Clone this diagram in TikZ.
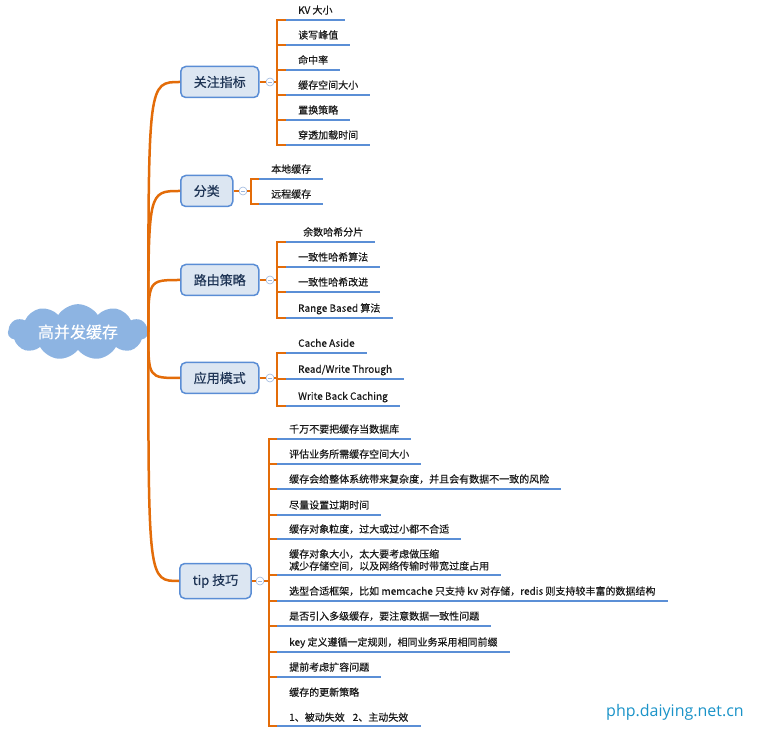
\documentclass[tikz,border=0pt]{standalone}
\usepackage{fontspec}
\setmainfont{Noto Sans CJK SC}[FakeBold=0.4]
\newfontfamily\wmfont{Open Sans}
\usetikzlibrary{shapes.symbols}
\definecolor{orangeln}{HTML}{E36C09}
\definecolor{blueln}{HTML}{5B8FD6}
\definecolor{mfill}{HTML}{DCE6F2}
\definecolor{mdraw}{HTML}{5A8DD5}
\definecolor{mtext}{HTML}{1F3556}
\definecolor{cloudc}{HTML}{8DB4E2}
\definecolor{foldc}{HTML}{9CB6DE}
\definecolor{leaftext}{HTML}{1A1A1A}
\definecolor{wmark}{HTML}{1A93C8}
\begin{document}
\begin{tikzpicture}[x=1pt,y=-1pt,
    main/.style={draw=mdraw, fill=mfill, line width=1.5pt, rounded corners=5pt,
      text=mtext, font=\fontsize{13}{15}\selectfont, inner xsep=13pt,
      minimum height=31pt, anchor=west},
    fold/.style={circle, draw=foldc, fill=white, line width=0.6pt,
      minimum size=8pt, inner sep=0pt,
      path picture={\draw[foldc, line width=0.6pt]
        ([xshift=-2.2pt]path picture bounding box.center) --
        ([xshift=2.2pt]path picture bounding box.center);}},
    leaf/.style={anchor=south west, inner xsep=12pt, align=left,
      font=\fontsize{10}{12}\selectfont, text=leaftext},
    oneline/.style={inner ysep=4pt, text height=8pt, text depth=2pt},
    twoline/.style={inner ysep=4pt},
    uline/.style={draw=blueln, line width=2pt},
    bracket/.style={draw=orangeln, line width=2.8pt, line cap=rect},
    stub/.style={draw=orangeln, line width=2pt},
    branch/.style={draw=orangeln, line width=2.5pt}]
\useasboundingbox (0,0) rectangle (764,751);
% 中心
\node[cloud, cloud puffs=11, cloud puff arc=115, aspect=3.2, fill=cloudc,
  minimum width=140pt, minimum height=46pt, text=white,
  font=\fontsize{16}{18}\selectfont] (root) at (78,332) {高并发缓存};
% 一级节点
\node[main] (m1) at (180,82) {关注指标};
\node[main] (m2) at (180,191) {分类};
\node[main] (m3) at (180,280) {路由策略};
\node[main] (m4) at (180,378) {应用模式};
\node[main, minimum height=35pt] (m5) at (179,581) {tip 技巧};
\foreach \m in {m1,m2,m3,m4,m5}
  \draw[branch] (root.east) .. controls (root.east |- \m.west) .. (\m.west);
% 折叠点
\node[fold] (f1) at (270,82) {};
\node[fold] (f2) at (243,191) {};
\node[fold] (f3) at (270,280) {};
\node[fold] (f4) at (270,378) {};
\node[fold] (f5) at (260,581) {};
\coordinate (b1) at (277,82);
\coordinate (b2) at (251,191);
\coordinate (b3) at (277,280);
\coordinate (b4) at (277,378);
\coordinate (b5) at (269,581);
\foreach \i in {1,...,5}
  \draw[stub] (m\i) -- (f\i) -- (b\i);
% 关注指标
\foreach \y/\s/\t [count=\i] in {20/oneline/KV 大小, 45/oneline/读写峰值,
    70/oneline/命中率, 95/oneline/缓存空间大小, 120/oneline/置换策略,
    145/oneline/穿透加载时间} {
  \node[leaf, \s] (zb\i) at (286,\y) {\t};
  \draw[bracket] (b1 |- zb\i.south west) -- (zb\i.south west);
  \draw[uline] (zb\i.south west) -- (zb\i.south east);
}
\draw[bracket] (b1 |- zb1.south west) -- (b1 |- zb6.south west);
% 分类
\foreach \y/\s/\t [count=\i] in {179/oneline/本地缓存, 204/oneline/远程缓存} {
  \node[leaf, \s] (fl\i) at (259,\y) {\t};
  \draw[bracket] (b2 |- fl\i.south west) -- (fl\i.south west);
  \draw[uline] (fl\i.south west) -- (fl\i.south east);
}
\draw[bracket] (b2 |- fl1.south west) -- (b2 |- fl2.south west);
% 路由策略
\foreach \y/\s/\t [count=\i] in {242/oneline/\hspace*{5pt}余数哈希分片,
    267/oneline/一致性哈希算法, 292/oneline/一致性哈希改进,
    318/oneline/Range Based 算法} {
  \node[leaf, \s] (ly\i) at (286,\y) {\t};
  \draw[bracket] (b3 |- ly\i.south west) -- (ly\i.south west);
  \draw[uline] (ly\i.south west) -- (ly\i.south east);
}
\draw[bracket] (b3 |- ly1.south west) -- (b3 |- ly4.south west);
% 应用模式
\foreach \y/\s/\t [count=\i] in {353/oneline/Cache Aside,
    379/oneline/{Read/Write Through}, 406/oneline/Write Back Caching} {
  \node[leaf, \s] (yy\i) at (286,\y) {\t};
  \draw[bracket] (b4 |- yy\i.south west) -- (yy\i.south west);
  \draw[uline] (yy\i.south west) -- (yy\i.south east);
}
\draw[bracket] (b4 |- yy1.south west) -- (b4 |- yy3.south west);
% tip 技巧
\foreach \y/\s/\t [count=\i] in {439/oneline/千万不要把缓存当数据库,
    464/oneline/评估业务所需缓存空间大小,
    489/oneline/缓存会给整体系统带来复杂度，并且会有数据不一致的风险,
    515/oneline/尽量设置过期时间,
    539/oneline/缓存对象粒度，过大或过小都不合适,
    575/twoline/{缓存对象大小，太大要考虑做压缩\\减少存储空间，以及网络传输时带宽过度占用},
    601/oneline/选型合适框架，比如 memcache 只支持 kv 对存储，redis 则支持较丰富的数据结构,
    626/oneline/是否引入多级缓存，要注意数据一致性问题,
    652/oneline/key 定义遵循一定规则，相同业务采用相同前缀,
    677/oneline/提前考虑扩容问题,
    726/twoline/{缓存的更新策略\\[13pt]1、被动失效\hspace{8pt}2、主动失效}} {
  \node[leaf, \s] (tip\i) at (277,\y) {\t};
  \draw[bracket] (b5 |- tip\i.south west) -- (tip\i.south west);
  \draw[uline] (tip\i.south west) -- (tip\i.south east);
}
\draw[bracket] (b5 |- tip1.south west) -- (b5 |- tip11.south west);
% 水印
\node[anchor=west, inner sep=0pt, text=wmark,
  font=\wmfont\fontsize{16}{18}\selectfont] (wm) at (606,712) {php.daiying.net.cn};
\end{tikzpicture}
\end{document}
